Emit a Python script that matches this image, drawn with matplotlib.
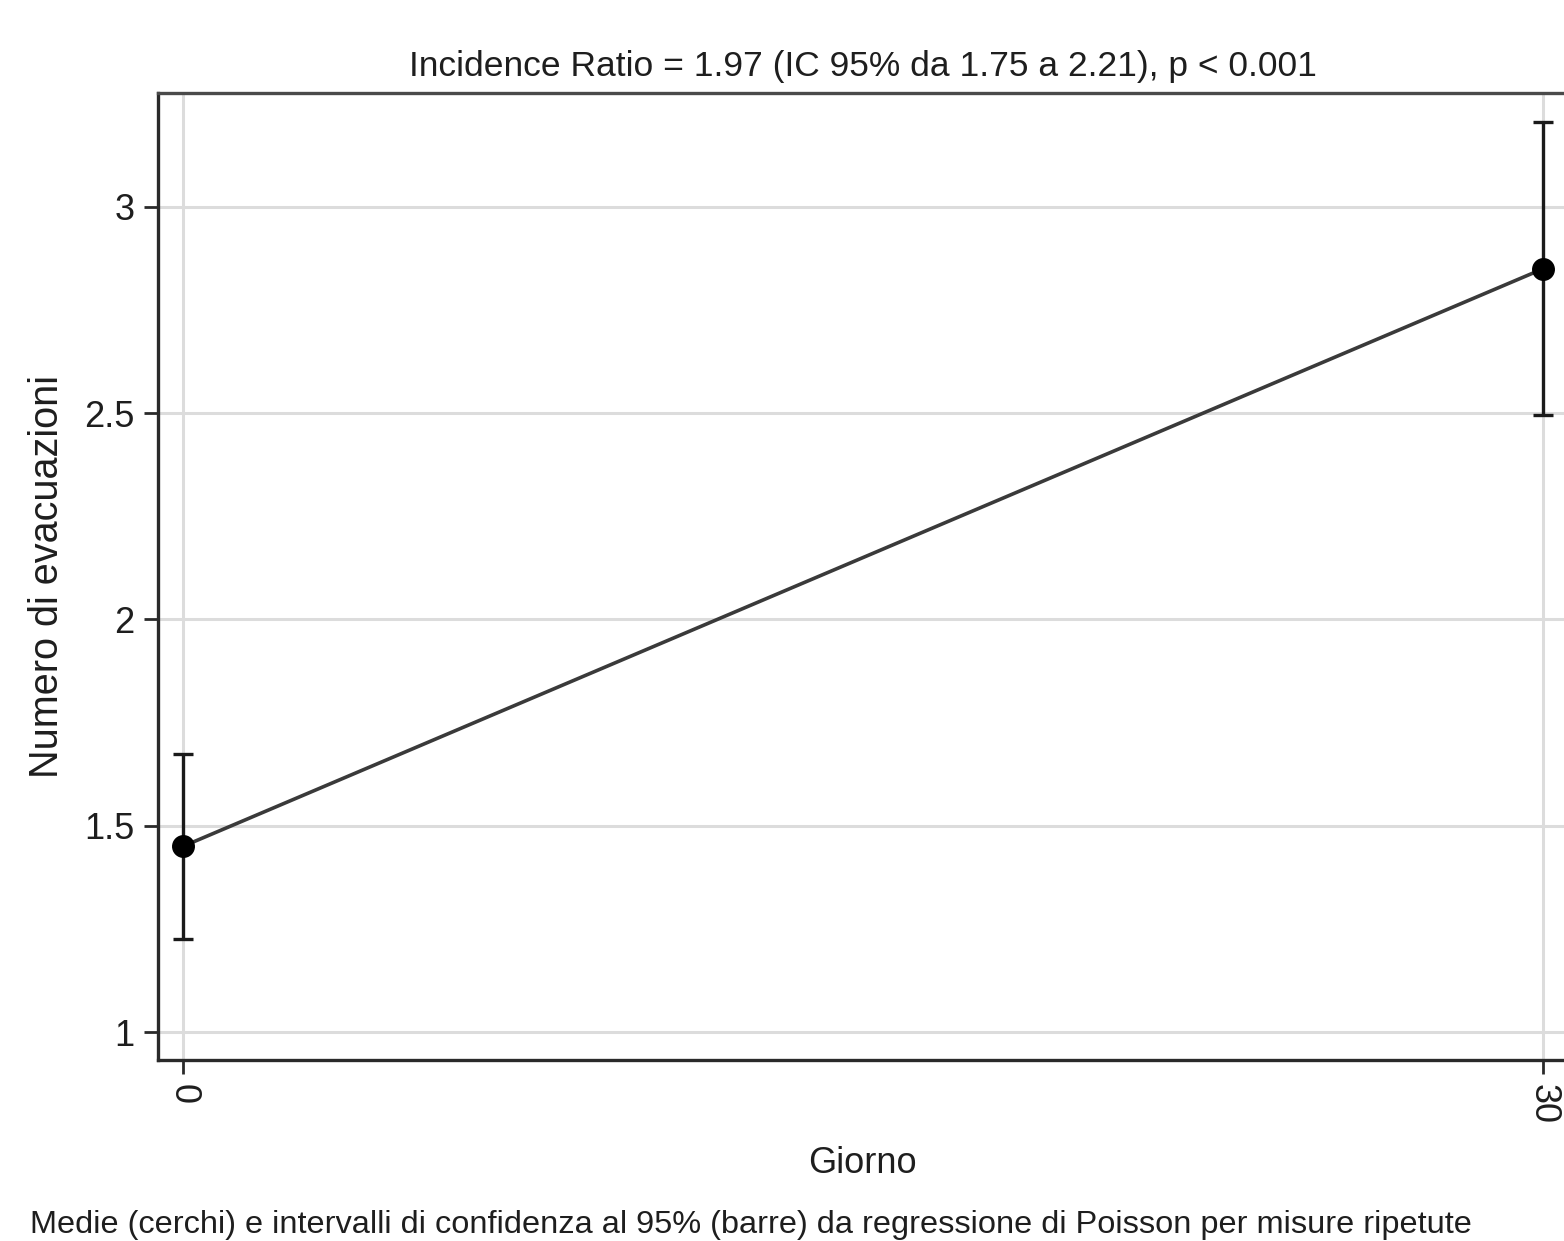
import matplotlib
matplotlib.use("Agg")
import matplotlib.pyplot as plt

# dati
giorni = [0, 30]
medie = [1.45, 2.85]
ic_basso = [1.225, 2.495]
ic_alto = [1.675, 3.205]
y_ticks = [1, 1.5, 2, 2.5, 3]
y_tick_labels = ["1", "1.5", "2", "2.5", "3"]

titolo = "Incidence Ratio = 1.97 (IC 95% da 1.75 a 2.21), p < 0.001"
nota = ("Medie (cerchi) e intervalli di confidenza al 95% (barre) "
        "da regressione di Poisson per misure ripetute")

plt.rcParams['font.family'] = ['Liberation Sans', 'DejaVu Sans']

fig = plt.figure(figsize=(15.64, 12.41), dpi=100)
ax = fig.add_axes([0.101, 0.1458, 0.9015, 0.7792])

err_lo = [m - lo for m, lo in zip(medie, ic_basso)]
err_hi = [hi - m for m, hi in zip(medie, ic_alto)]

ax.plot(giorni, medie, color='#3a3a3a', lw=2.6, zorder=3)
ax.errorbar(giorni, medie, yerr=[err_lo, err_hi], fmt='none', ecolor='#1a1a1a',
            elinewidth=2.4, capsize=7.5, capthick=2.4, zorder=4)
ax.plot(giorni, medie, 'o', color='black', ms=15.5, zorder=5)

ax.set_xlim(-0.55, 30.55)
ax.set_ylim(0.932, 3.276)
ax.set_xticks(giorni)
ax.set_xticklabels([str(g) for g in giorni], rotation=-90)
ax.set_yticks(y_ticks)
ax.set_yticklabels(y_tick_labels)

ax.grid(True, color='#dcdcdc', lw=2.2)
ax.set_axisbelow(True)
for s in ['left', 'bottom', 'top']:
    ax.spines[s].set_color('#2a2a2a')
    ax.spines[s].set_linewidth(2.4)
ax.spines['top'].set_color('#4a4a4a')
ax.spines['right'].set_visible(False)
ax.tick_params(direction='out', length=10, width=2, color='#2a2a2a',
               labelsize=26, pad=7, labelcolor='#1e1e1e')

ax.set_title(titolo, fontsize=25.5, pad=12, color='#1e1e1e')
ax.set_xlabel("Giorno", fontsize=26, labelpad=16, color='#1e1e1e')
ax.set_ylabel("Numero di evacuazioni", fontsize=28.5, labelpad=13, color='#1e1e1e')

fig.text(0.019, 0.0065, nota, fontsize=23.4, ha='left', va='baseline', color='#1e1e1e')

fig.savefig("out.png", dpi=100)
